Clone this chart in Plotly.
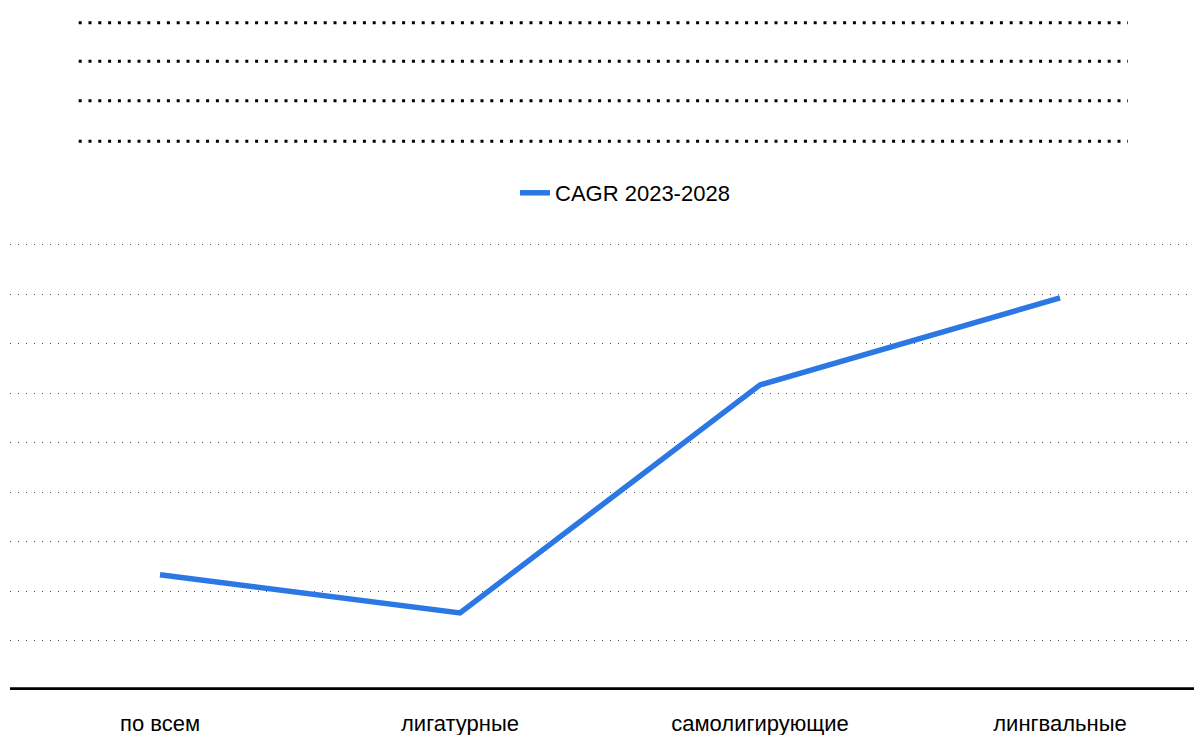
import plotly.graph_objects as go

categories = ["по всем", "лигатурные", "самолигирующие", "лингвальные"]
cagr_values = [2.33, 1.56, 6.17, 7.93]
series_name = "CAGR 2023-2028"

FONT = "Liberation Sans, Arial, sans-serif"

# page body has an 8px default margin, so the figure is drawn 8px in from the window edge
W, H = 1194, 727
L, R, T, B = 2, 0, 232, 45          # plot area in figure px: x 2..1194, y 232..682
PH = H - T - B                      # 450

fig = go.Figure()
fig.add_trace(go.Scatter(
    x=categories, y=cagr_values, mode="lines", name=series_name,
    line=dict(color="#2B78E4", width=5.5),
    hoverinfo="x+y",
))

# decorative dotted placeholder lines at the top (paper coords)
shapes = []
for wy in [22.7, 61.3, 100.7, 141.3]:          # window px
    yy = (690 - wy) / PH
    shapes.append(dict(type="line", xref="paper", yref="paper",
                       x0=(78.7 - 10) / 1192, x1=(1128 - 10) / 1192, y0=yy, y1=yy,
                       line=dict(color="black", width=3, dash="3px,6.8px")))
# thick baseline
shapes.append(dict(type="line", xref="paper", yref="y", x0=0, x1=1, y0=0, y1=0,
                   line=dict(color="black", width=5.4)))

fig.update_layout(
    width=W, height=H,
    margin=dict(l=L, r=R, t=T, b=B, pad=0, autoexpand=False),
    paper_bgcolor="white", plot_bgcolor="white",
    font=dict(family=FONT, size=22, color="#000000"),
    showlegend=True,
    legend=dict(orientation="h", xref="container", yref="container",
                x=507 / W, xanchor="left", y=1 - 185 / H, yanchor="middle",
                font=dict(size=22), bgcolor="rgba(0,0,0,0)"),
    shapes=shapes,
    xaxis=dict(range=[-0.5, 3.4733], showgrid=False, showline=False, zeroline=False,
               ticks="", tickfont=dict(size=22), ticklabelstandoff=18,
               fixedrange=True, automargin=False),
    yaxis=dict(range=[0, 9.1], dtick=1, showgrid=True, gridcolor="#555555", gridwidth=1.4,
               griddash="1.4px,6.6px", showticklabels=False, zeroline=False,
               showline=False, ticks="", fixedrange=True, automargin=False),
)

fig.write_html("out.html")
